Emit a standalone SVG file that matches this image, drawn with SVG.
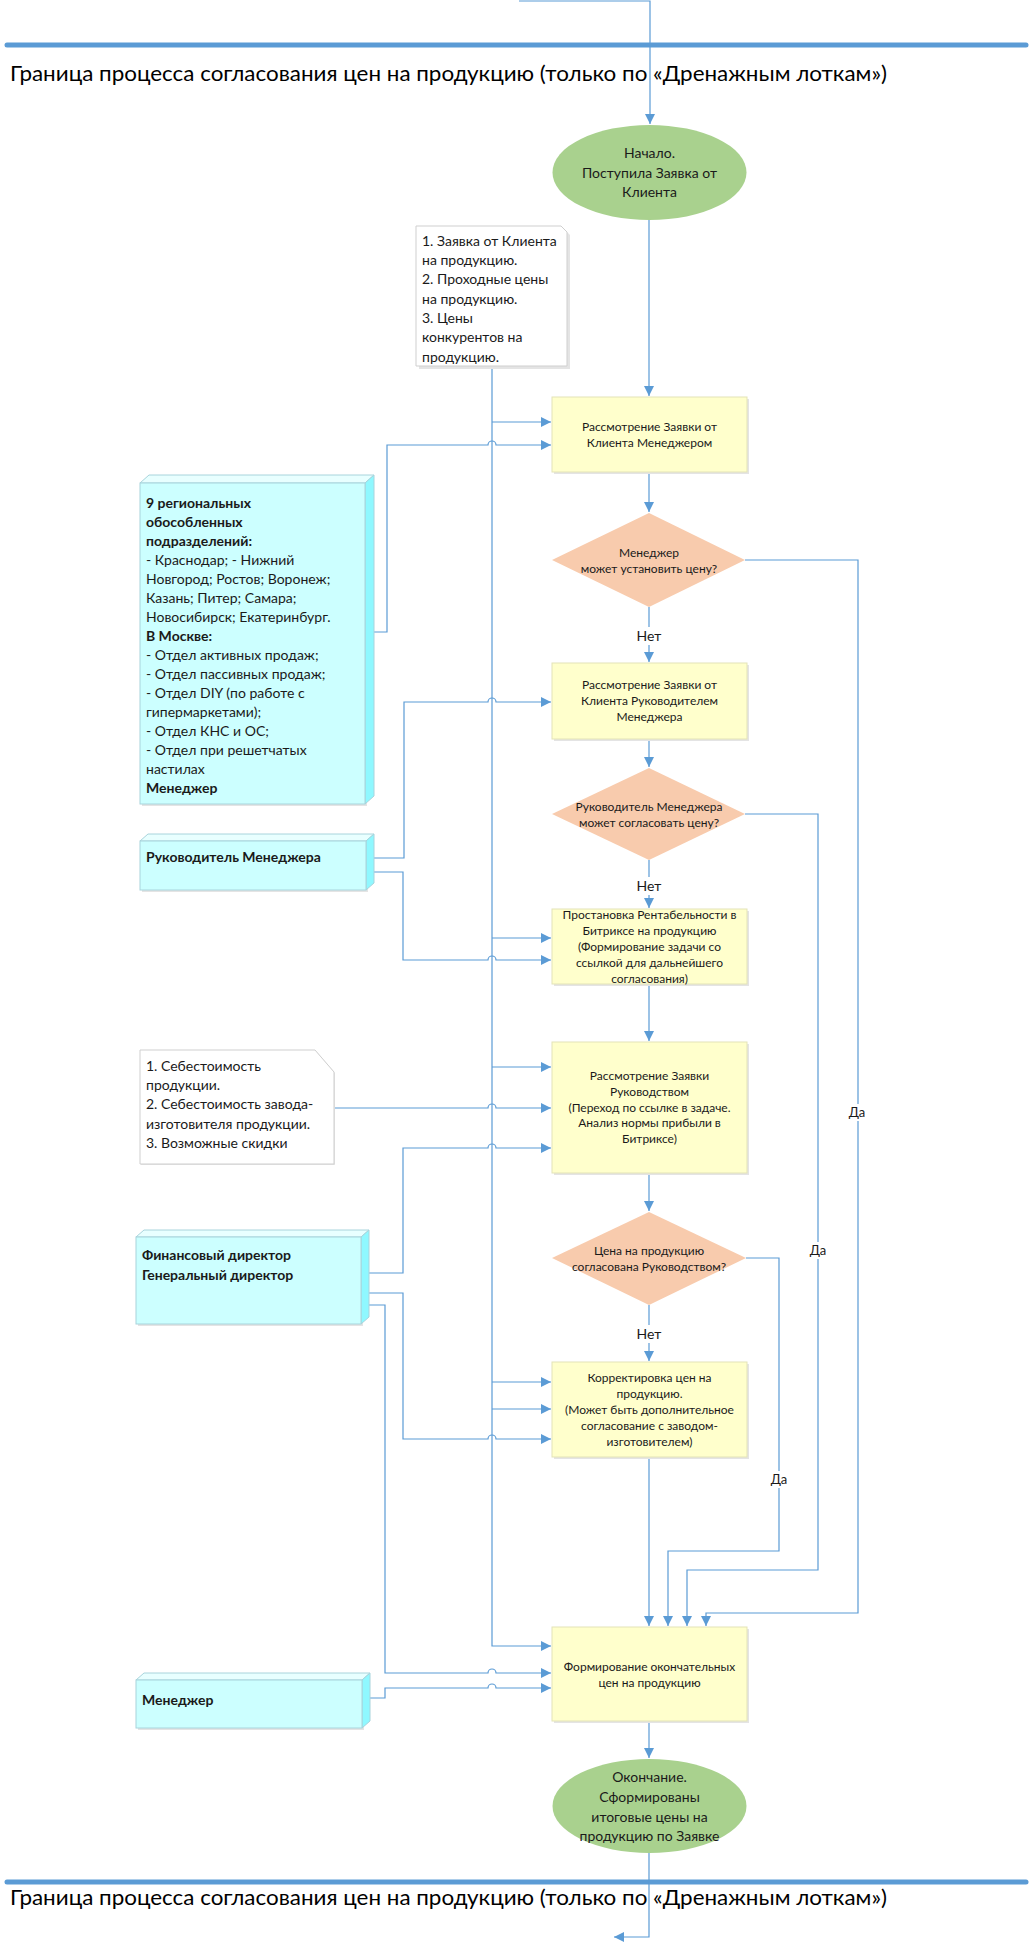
<svg xmlns="http://www.w3.org/2000/svg" width="1030" height="1944" viewBox="0 0 1030 1944">
<defs>
<style>
text{font-family:Lato,"Open Sans","Liberation Sans",sans-serif;fill:#1a1a1a}
.t12{font-size:12px;text-anchor:middle}
.t14{font-size:14px}
.c14{font-size:14px;text-anchor:middle}
.b{font-weight:bold}
.title{font-size:21px;fill:#000}
.lbl{font-size:13px;text-anchor:middle}
.con{fill:none;stroke:#5b9bd5;stroke-width:1.2}
.arr{fill:none;stroke:#5b9bd5;stroke-width:1.2;marker-end:url(#ah)}
.proc{fill:#ffffcc;stroke:#e3e3b8;stroke-width:1}
.shadow{fill:#e4e4e4}
.dia{fill:#f8cbad}
.term{fill:#a9d18e}
.note{fill:#fff;stroke:#cfcfcf;stroke-width:1}
.cf{fill:#ccffff;stroke:#a8d4dc;stroke-width:1}
.ct{fill:#e8ffff;stroke:#a8d4dc;stroke-width:1}
.cs{fill:#8ff8ff;stroke:#a8d4dc;stroke-width:1}
.bnd{stroke:#5b9bd5;stroke-width:5;stroke-linecap:round}
.bg{fill:#fff}
</style>
<marker id="ah" viewBox="0 0 10 10" refX="10" refY="5" markerWidth="10" markerHeight="10" markerUnits="userSpaceOnUse" orient="auto">
<path d="M0,0 L10,5 L0,10 z" fill="#5b9bd5"/>
</marker>
</defs>
<rect width="1030" height="1944" fill="#fff"/>

<g id="boundary-top">
<line class="bnd" x1="7" y1="45" x2="1026" y2="45"/>
<text class="title" x="10" y="81" textLength="877" lengthAdjust="spacingAndGlyphs">Граница процесса согласования цен на продукцию (только по «Дренажным лоткам»)</text>
</g>
<g id="boundary-bottom">
<line class="bnd" x1="7" y1="1882" x2="1026" y2="1882"/>
<text class="title" x="10" y="1905" textLength="877" lengthAdjust="spacingAndGlyphs">Граница процесса согласования цен на продукцию (только по «Дренажным лоткам»)</text>
</g>

<g id="connectors">
<path class="arr" d="M519 1 H650 V124"/>
<path class="arr" d="M649 220 V396"/>
<path class="arr" d="M649 472 V512"/>
<path class="arr" d="M649 607 V662"/>
<path class="arr" d="M649 739 V767"/>
<path class="arr" d="M649 860 V908"/>
<path class="arr" d="M649 984 V1041"/>
<path class="arr" d="M649 1173 V1211"/>
<path class="arr" d="M649 1305 V1361"/>
<path class="arr" d="M649 1457 V1626"/>
<path class="arr" d="M649 1721 V1758"/>
<path class="arr" d="M649 1853 V1937 H614"/>
<path class="arr" d="M745 560 H858 V1613 H706 V1626"/>
<path class="arr" d="M745 814 H818 V1570 H687 V1626"/>
<path class="arr" d="M746 1258 H779 V1551 H668 V1626"/>
<path class="arr" d="M492 366 V1646 H551"/>
<path class="arr" d="M492 422 H551"/>
<path class="arr" d="M492 938 H551"/>
<path class="arr" d="M492 1067 H551"/>
<path class="arr" d="M492 1382 H551"/>
<path class="arr" d="M492 1409 H551"/>
<path class="arr" d="M374 632 H387 V445 H488 A4 4 0 0 1 496 445 H551"/>
<path class="arr" d="M374 858 H404 V702 H488 A4 4 0 0 1 496 702 H551"/>
<path class="arr" d="M374 872 H403 V960 H488 A4 4 0 0 1 496 960 H551"/>
<path class="arr" d="M334 1108 H488 A4 4 0 0 1 496 1108 H551"/>
<path class="arr" d="M369 1273 H403 V1148 H488 A4 4 0 0 1 496 1148 H551"/>
<path class="arr" d="M369 1293 H403 V1439 H488 A4 4 0 0 1 496 1439 H551"/>
<path class="arr" d="M369 1305 H385 V1673 H488 A4 4 0 0 1 496 1673 H551"/>
<path class="arr" d="M370 1698 H385 V1688 H488 A4 4 0 0 1 496 1688 H551"/>
<rect class="bg" x="635" y="627" width="28" height="18"/>
<text class="c14" x="649" y="641">Нет</text>
<rect class="bg" x="635" y="877" width="28" height="18"/>
<text class="c14" x="649" y="891">Нет</text>
<rect class="bg" x="635" y="1325" width="28" height="18"/>
<text class="c14" x="649" y="1339">Нет</text>
<rect class="bg" x="845" y="1104" width="24" height="17"/>
<text class="lbl" x="857" y="1117">Да</text>
<rect class="bg" x="806" y="1242" width="24" height="17"/>
<text class="lbl" x="818" y="1255">Да</text>
<rect class="bg" x="767" y="1471" width="24" height="17"/>
<text class="lbl" x="779" y="1484">Да</text>
</g>

<g id="start">
<ellipse class="term" cx="649.5" cy="172.5" rx="97" ry="47.5"/>
<text class="c14" x="649.5" y="158">Начало.</text>
<text class="c14" x="649.5" y="178">Поступила Заявка от</text>
<text class="c14" x="649.5" y="197">Клиента</text>
</g>

<g id="note1">
<path class="shadow" d="M418 228 H563 L569 234 V368 H418 z" transform="translate(1,1)"/>
<path class="note" d="M416 226 H561 L567 232 V366 H416 z"/>
<text class="t14" x="422" y="246">1. Заявка от Клиента</text>
<text class="t14" x="422" y="265">на продукцию.</text>
<text class="t14" x="422" y="284">2. Проходные цены</text>
<text class="t14" x="422" y="304">на продукцию.</text>
<text class="t14" x="422" y="323">3. Цены</text>
<text class="t14" x="422" y="342">конкурентов на</text>
<text class="t14" x="422" y="362">продукцию.</text>
</g>

<g id="box1">
<rect class="shadow" x="554" y="399" width="195" height="75"/>
<rect class="proc" x="552" y="397" width="195" height="75"/>
<text class="t12" x="649.5" y="431">Рассмотрение Заявки от</text>
<text class="t12" x="649.5" y="447">Клиента Менеджером</text>
</g>

<g id="dec1">
<path class="dia" d="M649 513 L745 560 L649 607 L552 560 z"/>
<text class="t12" x="649" y="557">Менеджер</text>
<text class="t12" x="649" y="573">может установить цену?</text>
</g>

<g id="box2">
<rect class="shadow" x="554" y="665" width="195" height="76"/>
<rect class="proc" x="552" y="663" width="195" height="76"/>
<text class="t12" x="649.5" y="689">Рассмотрение Заявки от</text>
<text class="t12" x="649.5" y="705">Клиента Руководителем</text>
<text class="t12" x="649.5" y="721">Менеджера</text>
</g>

<g id="dec2">
<path class="dia" d="M649 768 L745 814 L649 860 L552 814 z"/>
<text class="t12" x="649" y="811">Руководитель Менеджера</text>
<text class="t12" x="649" y="827">может согласовать цену?</text>
</g>

<g id="box3">
<rect class="shadow" x="554" y="911" width="195" height="75"/>
<rect class="proc" x="552" y="909" width="195" height="75"/>
<text class="t12" x="649.5" y="919">Простановка Рентабельности в</text>
<text class="t12" x="649.5" y="935">Битриксе на продукцию</text>
<text class="t12" x="649.5" y="951">(Формирование задачи со</text>
<text class="t12" x="649.5" y="967">ссылкой для дальнейшего</text>
<text class="t12" x="649.5" y="983">согласования)</text>
</g>

<g id="box4">
<rect class="shadow" x="554" y="1044" width="195" height="131"/>
<rect class="proc" x="552" y="1042" width="195" height="131"/>
<text class="t12" x="649.5" y="1080">Рассмотрение Заявки</text>
<text class="t12" x="649.5" y="1096">Руководством</text>
<text class="t12" x="649.5" y="1112">(Переход по ссылке в задаче.</text>
<text class="t12" x="649.5" y="1127">Анализ нормы прибыли в</text>
<text class="t12" x="649.5" y="1143">Битриксе)</text>
</g>

<g id="dec3">
<path class="dia" d="M649 1212 L746 1258 L649 1305 L552 1258 z"/>
<text class="t12" x="649" y="1255">Цена на продукцию</text>
<text class="t12" x="649" y="1271">согласована Руководством?</text>
</g>

<g id="box5">
<rect class="shadow" x="554" y="1364" width="195" height="95"/>
<rect class="proc" x="552" y="1362" width="195" height="95"/>
<text class="t12" x="649.5" y="1382">Корректировка цен на</text>
<text class="t12" x="649.5" y="1398">продукцию.</text>
<text class="t12" x="649.5" y="1414">(Может быть дополнительное</text>
<text class="t12" x="649.5" y="1430">согласование с заводом-</text>
<text class="t12" x="649.5" y="1446">изготовителем)</text>
</g>

<g id="box6">
<rect class="shadow" x="554" y="1629" width="195" height="94"/>
<rect class="proc" x="552" y="1627" width="195" height="94"/>
<text class="t12" x="649.5" y="1671">Формирование окончательных</text>
<text class="t12" x="649.5" y="1687">цен на продукцию</text>
</g>

<g id="end">
<ellipse class="term" cx="649.5" cy="1806" rx="97" ry="47"/>
<text class="c14" x="649.5" y="1782">Окончание.</text>
<text class="c14" x="649.5" y="1802">Сформированы</text>
<text class="c14" x="649.5" y="1822">итоговые цены на</text>
<text class="c14" x="649.5" y="1841">продукцию по Заявке</text>
</g>

<g id="managers">
<rect class="shadow" x="142" y="485" width="225" height="321"/>
<path class="ct" d="M140 483 L149 475 H374 L365 483 z"/>
<path class="cs" d="M365 483 L374 475 V796 L365 804 z"/>
<rect class="cf" x="140" y="483" width="225" height="321"/>
<text class="t14 b" x="146" y="508">9 региональных</text>
<text class="t14 b" x="146" y="527">обособленных</text>
<text class="t14 b" x="146" y="546">подразделений:</text>
<text class="t14" x="146" y="565">- Краснодар; - Нижний</text>
<text class="t14" x="146" y="584">Новгород; Ростов; Воронеж;</text>
<text class="t14" x="146" y="603">Казань; Питер; Самара;</text>
<text class="t14" x="146" y="622">Новосибирск; Екатеринбург.</text>
<text class="t14 b" x="146" y="641">В Москве:</text>
<text class="t14" x="146" y="660">- Отдел активных продаж;</text>
<text class="t14" x="146" y="679">- Отдел пассивных продаж;</text>
<text class="t14" x="146" y="698">- Отдел DIY (по работе с</text>
<text class="t14" x="146" y="717">гипермаркетами);</text>
<text class="t14" x="146" y="736">- Отдел КНС и ОС;</text>
<text class="t14" x="146" y="755">- Отдел при решетчатых</text>
<text class="t14" x="146" y="774">настилах</text>
<text class="t14 b" x="146" y="793">Менеджер</text>
</g>

<g id="head-manager">
<rect class="shadow" x="142" y="843" width="226" height="49"/>
<path class="ct" d="M140 841 L148 834 H374 L366 841 z"/>
<path class="cs" d="M366 841 L374 834 V883 L366 890 z"/>
<rect class="cf" x="140" y="841" width="226" height="49"/>
<text class="t14 b" x="146" y="862">Руководитель Менеджера</text>
</g>

<g id="note2">
<path class="shadow" d="M141 1051 H316 L335 1073 V1165 H141 z"/>
<path class="note" d="M140 1050 H315 L334 1072 V1164 H140 z"/>
<text class="t14" x="146" y="1071">1. Себестоимость</text>
<text class="t14" x="146" y="1090">продукции.</text>
<text class="t14" x="146" y="1109">2. Себестоимость завода-</text>
<text class="t14" x="146" y="1129">изготовителя продукции.</text>
<text class="t14" x="146" y="1148">3. Возможные скидки</text>
</g>

<g id="directors">
<rect class="shadow" x="138" y="1239" width="225" height="87"/>
<path class="ct" d="M136 1237 L144 1230 H369 L361 1237 z"/>
<path class="cs" d="M361 1237 L369 1230 V1317 L361 1324 z"/>
<rect class="cf" x="136" y="1237" width="225" height="87"/>
<text class="t14 b" x="142" y="1260">Финансовый директор</text>
<text class="t14 b" x="142" y="1280">Генеральный директор</text>
</g>

<g id="manager">
<rect class="shadow" x="138" y="1682" width="226" height="48"/>
<path class="ct" d="M136 1680 L144 1673 H370 L362 1680 z"/>
<path class="cs" d="M362 1680 L370 1673 V1721 L362 1728 z"/>
<rect class="cf" x="136" y="1680" width="226" height="48"/>
<text class="t14 b" x="142" y="1705">Менеджер</text>
</g>
</svg>
